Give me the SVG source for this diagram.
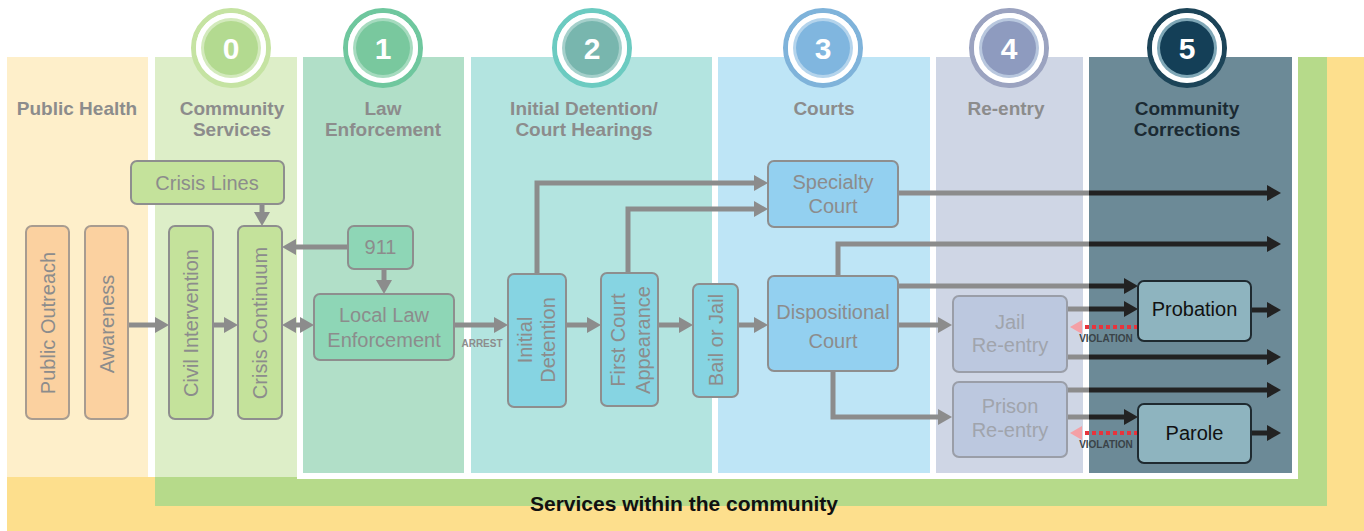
<svg xmlns="http://www.w3.org/2000/svg" width="1364" height="531" viewBox="0 0 1364 531">
<style>
.hdr{font-family:"Liberation Sans",Arial,sans-serif;font-weight:bold;font-size:19px;fill:#8C8C8C;text-anchor:middle}
.num{font-family:"Liberation Sans",Arial,sans-serif;font-weight:bold;font-size:30px;fill:#FFFFFF;text-anchor:middle}
.lbl{font-family:"Liberation Sans",Arial,sans-serif;font-size:20px;fill:#8C8C8C;text-anchor:middle}
.vl{font-family:"Liberation Sans",Arial,sans-serif;font-size:20px;fill:#8C8C8C;text-anchor:middle;dominant-baseline:central}
.box{stroke:#8E8E8E;stroke-width:2}
.g{fill:none;stroke:#8C8C8C;stroke-width:5}
.k{fill:none;stroke:#222222;stroke-width:5}
.vio{fill:none;stroke:#E8343C;stroke-width:4;stroke-dasharray:4 3}
.small{font-family:"Liberation Sans",Arial,sans-serif;font-weight:bold;font-size:10px;text-anchor:middle}
</style>
<defs>
<marker id="ag" markerUnits="userSpaceOnUse" markerWidth="14" markerHeight="16" refX="4" refY="8" orient="auto-start-reverse"><path d="M0,0 L14,8 L0,16 z" fill="#8C8C8C"/></marker>
<marker id="ak" markerUnits="userSpaceOnUse" markerWidth="14" markerHeight="16" refX="4" refY="8" orient="auto"><path d="M0,0 L14,8 L0,16 z" fill="#222222"/></marker>
<marker id="ap" markerUnits="userSpaceOnUse" markerWidth="12" markerHeight="14" refX="2" refY="7" orient="auto"><path d="M0,0 L12,7 L0,14 z" fill="#F4A0A6"/></marker>
</defs>

<g id="background">
<rect x="0" y="0" width="1364" height="531" fill="#FFFFFF"/>
<rect x="7" y="57" width="1357" height="474" fill="#FDDF8D"/>
<rect x="148" y="57" width="7" height="420" fill="#FFFFFF"/>
<rect x="7" y="57" width="141" height="420" fill="#FEEFCA"/>
<rect x="155" y="57" width="1172" height="449" fill="#B6DA8A"/>
<rect x="155" y="57" width="142" height="420" fill="#DDEEC8"/>
<rect x="297" y="57" width="1001" height="422" fill="#FFFFFF"/>
<rect x="303" y="57" width="161" height="416" fill="#B1DFC8"/>
<rect x="471" y="57" width="241" height="416" fill="#B3E4E0"/>
<rect x="718" y="57" width="212" height="416" fill="#BEE5F6"/>
<rect x="936" y="57" width="147" height="416" fill="#CFD6E5"/>
<rect x="1089" y="57" width="203" height="416" fill="#6C8A97"/>
<text x="684" y="511" font-family="'Liberation Sans',Arial,sans-serif" font-weight="bold" font-size="21" fill="#111111" text-anchor="middle">Services within the community</text>
</g>

<g id="stage-headers">
<text class="hdr" x="77" y="115">Public Health</text>
<text class="hdr" x="232" y="115">Community</text>
<text class="hdr" x="232" y="136">Services</text>
<text class="hdr" x="383" y="115">Law</text>
<text class="hdr" x="383" y="136">Enforcement</text>
<text class="hdr" x="584" y="115">Initial Detention/</text>
<text class="hdr" x="584" y="136">Court Hearings</text>
<text class="hdr" x="824" y="115">Courts</text>
<text class="hdr" x="1006" y="115">Re-entry</text>
<text class="hdr" x="1187" y="115" style="fill:#1B2A33">Community</text>
<text class="hdr" x="1187" y="136" style="fill:#1B2A33">Corrections</text>
</g>

<g id="intercept-0">
<circle cx="231" cy="48" r="37.5" fill="none" stroke="#C5E3A2" stroke-width="5"/>
<circle cx="231" cy="48" r="35" fill="#FFFFFF"/>
<circle cx="231" cy="48" r="30" fill="#D3EABC"/>
<circle cx="231" cy="48" r="27" fill="#B3DA90"/>
<text class="num" x="231" y="59">0</text>
</g>
<g id="intercept-1">
<circle cx="383" cy="48" r="37.5" fill="none" stroke="#6FC79E" stroke-width="5"/>
<circle cx="383" cy="48" r="35" fill="#FFFFFF"/>
<circle cx="383" cy="48" r="30" fill="#A6DBBF"/>
<circle cx="383" cy="48" r="27" fill="#79C89E"/>
<text class="num" x="383" y="59">1</text>
</g>
<g id="intercept-2">
<circle cx="592" cy="48" r="37.5" fill="none" stroke="#6CCBC1" stroke-width="5"/>
<circle cx="592" cy="48" r="35" fill="#FFFFFF"/>
<circle cx="592" cy="48" r="30" fill="#A5D0CB"/>
<circle cx="592" cy="48" r="27" fill="#78B6AE"/>
<text class="num" x="592" y="59">2</text>
</g>
<g id="intercept-3">
<circle cx="823" cy="48" r="37.5" fill="none" stroke="#7FB3DA" stroke-width="5"/>
<circle cx="823" cy="48" r="35" fill="#FFFFFF"/>
<circle cx="823" cy="48" r="30" fill="#B4D4EC"/>
<circle cx="823" cy="48" r="27" fill="#80B6DF"/>
<text class="num" x="823" y="59">3</text>
</g>
<g id="intercept-4">
<circle cx="1009" cy="48" r="37.5" fill="none" stroke="#9BA3C0" stroke-width="5"/>
<circle cx="1009" cy="48" r="35" fill="#FFFFFF"/>
<circle cx="1009" cy="48" r="30" fill="#B8C7DE"/>
<circle cx="1009" cy="48" r="27" fill="#8E9BBF"/>
<text class="num" x="1009" y="59">4</text>
</g>
<g id="intercept-5">
<circle cx="1187" cy="48" r="37.5" fill="none" stroke="#1C4458" stroke-width="5"/>
<circle cx="1187" cy="48" r="35" fill="#FFFFFF"/>
<circle cx="1187" cy="48" r="30" fill="#7FA7B6"/>
<circle cx="1187" cy="48" r="27" fill="#143F57"/>
<text class="num" x="1187" y="59">5</text>
</g>

<g id="connectors">
<line class="g" x1="262" y1="204" x2="262" y2="216" marker-end="url(#ag)"/>
<line class="g" x1="128" y1="325" x2="159" y2="325" marker-end="url(#ag)"/>
<line class="g" x1="213" y1="325" x2="228" y2="325" marker-end="url(#ag)"/>
<line class="g" x1="292" y1="325" x2="304" y2="325" marker-start="url(#ag)" marker-end="url(#ag)"/>
<line class="g" x1="348" y1="247" x2="292" y2="247" marker-end="url(#ag)"/>
<line class="g" x1="384" y1="269" x2="384" y2="284" marker-end="url(#ag)"/>
<line class="g" x1="454" y1="325" x2="498" y2="325" marker-end="url(#ag)"/>
<line class="g" x1="566" y1="325" x2="591" y2="325" marker-end="url(#ag)"/>
<line class="g" x1="658" y1="325" x2="683" y2="325" marker-end="url(#ag)"/>
<line class="g" x1="738" y1="325" x2="758" y2="325" marker-end="url(#ag)"/>
<path class="g" d="M537,274 V183 H758" marker-end="url(#ag)"/>
<path class="g" d="M628,273 V209 H758" marker-end="url(#ag)"/>
<path class="g" d="M898,193 H1090"/>
<line class="k" x1="1089" y1="193" x2="1271" y2="193" marker-end="url(#ak)"/>
<path class="g" d="M838,276 V244 H1090"/>
<line class="k" x1="1089" y1="244" x2="1271" y2="244" marker-end="url(#ak)"/>
<path class="g" d="M898,286 H1090"/>
<line class="k" x1="1089" y1="286" x2="1128" y2="286" marker-end="url(#ak)"/>
<line class="g" x1="898" y1="325" x2="942" y2="325" marker-end="url(#ag)"/>
<path class="g" d="M833,371 V417 H942" marker-end="url(#ag)"/>
<path class="g" d="M1067,309 H1090"/>
<line class="k" x1="1089" y1="309" x2="1128" y2="309" marker-end="url(#ak)"/>
<line class="k" x1="1251" y1="310" x2="1271" y2="310" marker-end="url(#ak)"/>
<path class="g" d="M1067,357 H1090"/>
<line class="k" x1="1089" y1="357" x2="1271" y2="357" marker-end="url(#ak)"/>
<path class="g" d="M1067,390 H1090"/>
<line class="k" x1="1089" y1="390" x2="1271" y2="390" marker-end="url(#ak)"/>
<path class="g" d="M1067,417 H1090"/>
<line class="k" x1="1089" y1="417" x2="1128" y2="417" marker-end="url(#ak)"/>
<line class="k" x1="1251" y1="433" x2="1271" y2="433" marker-end="url(#ak)"/>
<line class="vio" x1="1138" y1="327" x2="1080" y2="327" marker-end="url(#ap)"/>
<line class="vio" x1="1138" y1="433" x2="1080" y2="433" marker-end="url(#ap)"/>
<text class="small" x="1106" y="342" fill="#3A4348">VIOLATION</text>
<text class="small" x="1106" y="448" fill="#3A4348">VIOLATION</text>
<text class="small" x="482" y="347" fill="#8C8C8C">ARREST</text>
</g>

<g id="public-outreach">
<rect class="box" x="26" y="226" width="43" height="193" rx="6" fill="#FBD1A0" style="stroke:#A89C90"/>
<text class="vl" x="47.5" y="323" transform="rotate(-90 47.5 323)">Public Outreach</text>
</g>
<g id="awareness">
<rect class="box" x="85" y="226" width="43" height="193" rx="6" fill="#FBD1A0" style="stroke:#A89C90"/>
<text class="vl" x="106.5" y="324" transform="rotate(-90 106.5 324)">Awareness</text>
</g>
<g id="crisis-lines">
<rect class="box" x="131" y="161" width="153" height="43" rx="6" fill="#C4E29B"/>
<text class="lbl" x="207" y="190">Crisis Lines</text>
</g>
<g id="civil-intervention">
<rect class="box" x="169" y="226" width="44" height="193" rx="6" fill="#C4E29B"/>
<text class="vl" x="191" y="323" transform="rotate(-90 191 323)">Civil Intervention</text>
</g>
<g id="crisis-continuum">
<rect class="box" x="238" y="226" width="44" height="193" rx="6" fill="#C4E29B"/>
<text class="vl" x="260" y="323" transform="rotate(-90 260 323)">Crisis Continuum</text>
</g>
<g id="n911">
<rect class="box" x="348" y="226" width="65" height="43" rx="6" fill="#8ED6B6"/>
<text class="lbl" x="380.5" y="254">911</text>
</g>
<g id="local-law">
<rect class="box" x="314" y="294" width="140" height="66" rx="6" fill="#8ED6B6"/>
<text class="lbl" x="384" y="322">Local Law</text>
<text class="lbl" x="384" y="347">Enforcement</text>
</g>
<g id="initial-detention">
<rect class="box" x="508" y="274" width="58" height="133" rx="6" fill="#86D4E2"/>
<text class="vl" x="537" y="328" transform="rotate(-90 537 340)">Initial</text>
<text class="vl" x="537" y="351" transform="rotate(-90 537 340)">Detention</text>
</g>
<g id="first-court">
<rect class="box" x="601" y="273" width="57" height="133" rx="6" fill="#86D4E2"/>
<text class="vl" x="629.5" y="328" transform="rotate(-90 629.5 340)">First Court</text>
<text class="vl" x="629.5" y="353" transform="rotate(-90 629.5 340)">Appearance</text>
</g>
<g id="bail-or-jail">
<rect class="box" x="693" y="284" width="45" height="113" rx="6" fill="#86D4E2"/>
<text class="vl" x="715.5" y="340" transform="rotate(-90 715.5 340)">Bail or Jail</text>
</g>
<g id="specialty-court">
<rect class="box" x="768" y="161" width="130" height="66" rx="6" fill="#93D0F0"/>
<text class="lbl" x="833" y="189">Specialty</text>
<text class="lbl" x="833" y="213">Court</text>
</g>
<g id="dispositional-court">
<rect class="box" x="768" y="276" width="130" height="95" rx="6" fill="#93D0F0"/>
<text class="lbl" x="833" y="319">Dispositional</text>
<text class="lbl" x="833" y="348">Court</text>
</g>
<g id="jail-reentry">
<rect class="box" x="953" y="296" width="114" height="76" rx="6" fill="#BCC8DF" style="stroke:#9A9EA8"/>
<text class="lbl" x="1010" y="329" style="fill:#A0A4AC">Jail</text>
<text class="lbl" x="1010" y="352" style="fill:#A0A4AC">Re-entry</text>
</g>
<g id="prison-reentry">
<rect class="box" x="953" y="382" width="114" height="75" rx="6" fill="#BCC8DF" style="stroke:#9A9EA8"/>
<text class="lbl" x="1010" y="413" style="fill:#A0A4AC">Prison</text>
<text class="lbl" x="1010" y="437" style="fill:#A0A4AC">Re-entry</text>
</g>
<g id="probation">
<rect class="box" x="1138" y="281" width="113" height="60" rx="6" fill="#8EB4BF" style="stroke:#1F2A30"/>
<text class="lbl" x="1194.5" y="316" style="fill:#111111">Probation</text>
</g>
<g id="parole">
<rect class="box" x="1138" y="404" width="113" height="59" rx="6" fill="#8EB4BF" style="stroke:#1F2A30"/>
<text class="lbl" x="1194.5" y="440" style="fill:#111111">Parole</text>
</g>
</svg>
